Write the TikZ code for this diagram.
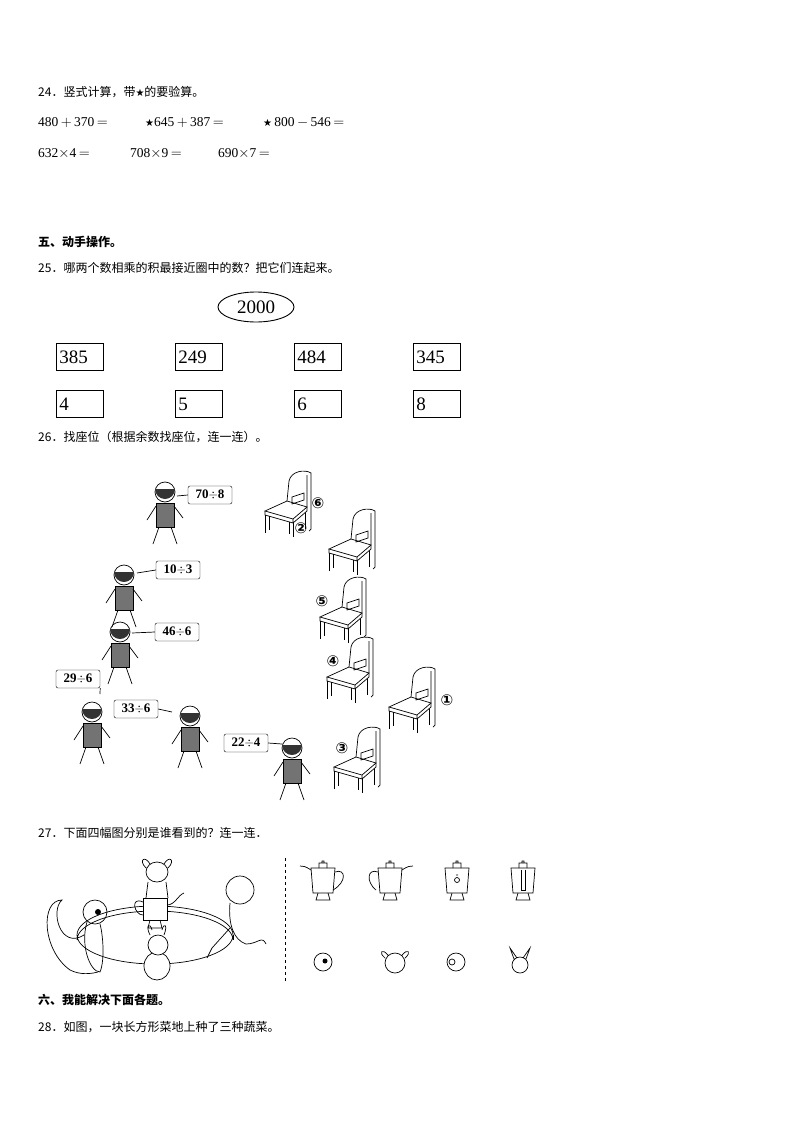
\documentclass[tikz,border=0pt]{standalone}
\usepackage{fontspec}
\setmainfont{Liberation Serif}
\newfontfamily\cjk{Noto Sans CJK SC}
\newfontfamily\sym{DejaVu Sans}
\usetikzlibrary{shapes.geometric}
\begin{document}
\begin{tikzpicture}[x=1pt,y=-1pt,
  txt/.style={anchor=west,inner sep=0pt,font=\cjk\fontsize{12}{14}\selectfont},
  eq/.style={anchor=west,inner sep=0pt,font=\fontsize{13.5}{15}\selectfont},
  numbox/.style={draw,line width=0.9pt,minimum width=47pt,minimum height=27pt,anchor=north west,inner sep=3pt,font=\fontsize{19}{21}\selectfont,text width=41pt,align=left},
  bubble/.style={draw,rounded corners=2pt,inner sep=1.5pt,font=\bfseries\fontsize{13}{14}\selectfont,minimum width=44pt,minimum height=18pt},
  circnum/.style={inner sep=0pt,font=\sym\bfseries\fontsize{15}{15}\selectfont},
  ln/.style={line width=0.7pt},
  chair/.pic={
   \draw[ln,fill=white] (0,-22)--(22,-32)--(42,-26)--(28,-14)--cycle;
   \draw[ln] (0,-22)--(0,-18)--(28,-10)--(28,-14) (28,-10)--(42,-22)--(42,-26);
   \draw[ln] (0,-18)--(0,0) (4,-17)--(4,-3) (28,-10)--(28,4) (24,-11)--(24,1) (40,-20)--(40,-4);
   \draw[ln] (22,-32)--(24,-52) .. controls (26,-62) and (40,-64) .. (46,-60)--(46,-4)--(44,-2) (42,-26)--(42,-58);
   \draw[ln] (27,-36)--(39,-40)--(39,-33)--(27,-29)--cycle;}
]
\useasboundingbox (0,0) rectangle (794,1123);
\node[txt] (t24) at (38,92) {24．竖式计算，带{\sym\fontsize{10}{10}\selectfont★}的要验算。};
\node[eq] (e1) at (38,123) {480$\,+\,$370$\,=$};
\node[eq] (e2) at (145,123) {{\sym\fontsize{10}{10}\selectfont★}645$\,+\,$387$\,=$};
\node[eq] (e3) at (263,123) {{\sym\fontsize{10}{10}\selectfont★}\,800$\,-\,$546$\,=$};
\node[eq] (e4) at (38,154) {632$\times$4$\,=$};
\node[eq] (e5) at (130,154) {708$\times$9$\,=$};
\node[eq] (e6) at (218,154) {690$\times$7$\,=$};
\node[txt,font=\cjk\bfseries\fontsize{12}{14}\selectfont] (s5) at (38,242) {五、动手操作。};
\node[txt] (t25) at (38,268) {25．哪两个数相乘的积最接近圈中的数？把它们连起来。};
\node[draw,ellipse,line width=0.9pt,minimum width=76pt,minimum height=30pt,font=\fontsize{19}{21}\selectfont] (c2000) at (256,307) {2000};
\foreach \x/\a/\b [count=\i] in {56/385/4,175/249/5,294/484/6,413/345/8}{
  \node[numbox] (top\i) at (\x,343) {\a};
  \node[numbox] (bot\i) at (\x,390) {\b};
}
\node[txt] (t26) at (38,437) {26．找座位（根据余数找座位，连一连）。};
% speech bubbles
\node[bubble] (b1) at (210,495) {70$\div$8};
\node[bubble] (b2) at (178,570) {10$\div$3};
\node[bubble] (b3) at (177,632) {46$\div$6};
\node[bubble] (b4) at (78,679) {29$\div$6};
\node[bubble] (b5) at (136,709) {33$\div$6};
\node[bubble] (b6) at (246,743) {22$\div$4};
% kids (simplified)
\foreach \hx/\hy in {165/492,124/575,120/632,92/712,190/716,292/748}{
  \draw[ln] (\hx,\hy) circle (10);
  \fill[black!80] (\hx-10,\hy-3) arc (180:0:10) -- cycle;
  \draw[ln,fill=black!55] (\hx-9,\hy+11) rectangle (\hx+9,\hy+35);
  \draw[ln] (\hx-6,\hy+35)--(\hx-12,\hy+52) (\hx+6,\hy+35)--(\hx+12,\hy+52);
  \draw[ln] (\hx-9,\hy+14)--(\hx-18,\hy+28) (\hx+9,\hy+14)--(\hx+18,\hy+26);
}
\draw[ln] (b1.west)--(177,496) (b2.west)--(137,573) (b3.west)--(132,633) (b4.south east)--(100,694) (b5.east)--(172,712) (b6.east)--(282,744);
% chairs
\pic at (265,533) {chair};
\pic at (329,571) {chair};
\pic at (320,639) {chair};
\pic at (327,699) {chair};
\pic at (389,729) {chair};
\pic at (334,789) {chair};
\node[circnum] (n6) at (318,503) {⑥};
\node[circnum] (n2) at (301,528) {②};
\node[circnum] (n5) at (322,601) {⑤};
\node[circnum] (n4) at (333,661) {④};
\node[circnum] (n1) at (447,700) {①};
\node[circnum] (n3) at (342,748) {③};
\node[txt] (t27) at (38,833) {27．下面四幅图分别是谁看到的？连一连．};
% table scene
\draw[ln] (155,935) ellipse (78 and 29);
\draw[ln] (77,935)--(77,940) (233,935)--(233,940);
\draw[ln] (77,940) arc (180:360:78 and 29);
\draw[ln,fill=white] (143,898)--(143,920)--(167,920)--(167,898)--cycle;
\draw[ln] (150,920)--(148,928)--(162,928)--(160,920);
\draw[ln] (143,902) .. controls (130,896) and (134,915) .. (143,915) (167,905) .. controls (175,905) and (178,895) .. (184,893);
% dog at top
\draw[ln] (157,872) ellipse (11 and 10) (146,868) .. controls (138,860) and (145,855) .. (150,864) (168,868) .. controls (176,860) and (169,855) .. (164,864);
\draw[ln] (148,882)--(146,898) (166,882)--(168,898);
% squirrel
\draw[ln] (95,912) circle (12) (87,922) .. controls (80,945) and (90,972) .. (100,972) .. controls (105,960) and (103,935) .. (100,924);
\draw[ln] (84,935) .. controls (60,950) and (50,910) .. (62,900) .. controls (40,900) and (42,950) .. (70,970) .. controls (80,975) and (90,974) .. (98,972);
\fill (98,912) circle (3);
% rabbit
\draw[ln,fill=white] (157,966) ellipse (13 and 14);
\draw[ln] (150,935) .. controls (145,925) and (150,922) .. (152,930) (164,935) .. controls (168,925) and (164,922) .. (162,930);
\draw[ln,fill=white] (158,945) circle (10);
% monkey
\draw[ln,fill=white] (240,890) circle (14);
\draw[ln] (230,903) .. controls (228,925) and (234,940) .. (246,944) .. controls (258,944) and (262,935) .. (266,944) (230,928)--(212,948)--(207,958);
\draw[ln,dashed] (285,858)--(285,982);
% teapots
\foreach \cx in {323,390,457,523}{
  \draw[ln] (\cx-12,868)--(\cx+12,868)--(\cx+10,893)--(\cx-10,893)--cycle;
  \draw[ln] (\cx-5,893)--(\cx-7,900)--(\cx+7,900)--(\cx+5,893) (\cx-4,868)--(\cx-4,863)--(\cx+4,863)--(\cx+4,868) (\cx-1,863)--(\cx-1,861)--(\cx+1,861)--(\cx+1,863);
}
\draw[ln] (311,870) .. controls (305,866) and (303,866) .. (300,866) (335,872) .. controls (346,868) and (347,882) .. (333,890);
\draw[ln] (402,870) .. controls (408,866) and (410,866) .. (413,866) (378,872) .. controls (367,868) and (366,882) .. (376,890);
\draw[ln] (457,880) circle (2.5) (456,875) -- (458,875);
\draw[ln] (521,870)--(521,890)--(525,890)--(525,870);
% faces
\draw[ln] (323,962) circle (9); \fill (325,961) circle (2.5);
\draw[ln] (395,963) circle (10) (385,958) .. controls (378,952) and (382,948) .. (388,955) (405,958) .. controls (412,952) and (408,948) .. (402,955);
\draw[ln] (456,962) circle (9) (452,962) circle (3);
\draw[ln] (520,965) circle (8) (514,959)--(510,948)--(517,958) (526,959)--(530,948)--(523,958);
\node[txt,font=\cjk\bfseries\fontsize{12}{14}\selectfont] (s6) at (38,1000) {六、我能解决下面各题。};
\node[txt] (t28) at (38,1027) {28．如图，一块长方形菜地上种了三种蔬菜。};
\end{tikzpicture}
\end{document}
